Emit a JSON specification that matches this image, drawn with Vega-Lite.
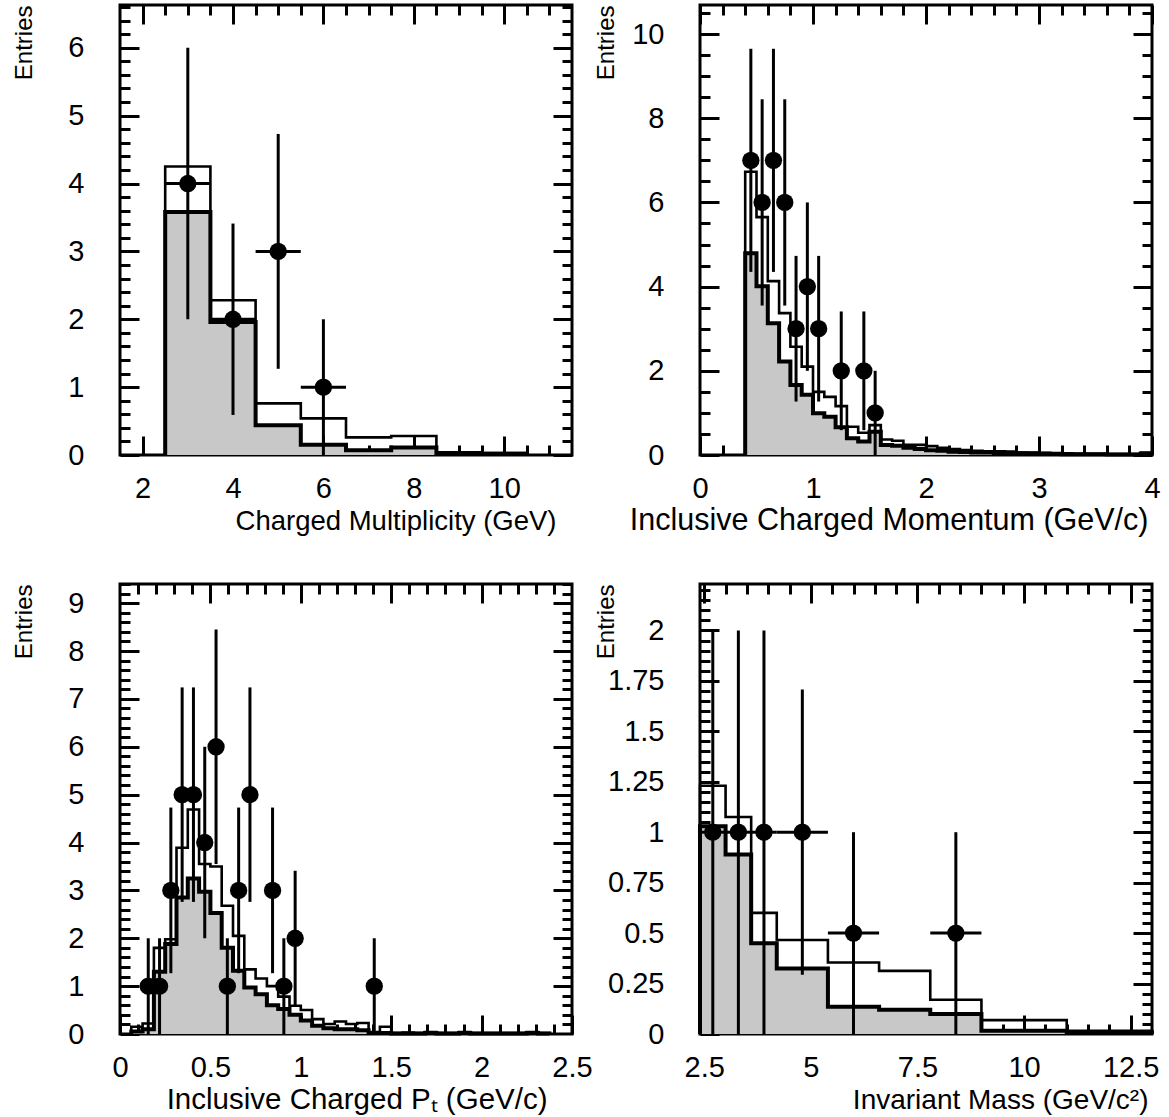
{
  "$schema": "https://vega.github.io/schema/vega-lite/v6.json",
  "padding": {"left": 10, "top": 2, "right": 5, "bottom": 2},
  "autosize": {"type": "pad"},
  "background": "white",
  "config": {
    "view": {"stroke": "black", "strokeWidth": 3},
    "axis": {
      "domain": false, "grid": false, "tickColor": "black", "tickWidth": 3,
      "labelFont": "Liberation Sans", "labelFontSize": 29, "labelColor": "black",
      "titleFont": "Liberation Sans", "titleFontWeight": "normal", "titleColor": "black",
      "labelFlush": false, "labelOverlap": false, "labelBound": false, "zindex": 1
    }
  },
  "datasets": {
    "h1": [
      {"k":0,"x":2.5,"a":0,"b":0},{"k":1,"x":2.5,"a":3.58,"b":4.25},{"k":2,"x":3.5,"a":1.96,"b":2.28},{"k":3,"x":4.5,"a":0.44,"b":0.76},
      {"k":4,"x":5.5,"a":0.15,"b":0.54},{"k":5,"x":6.5,"a":0.07,"b":0.26},{"k":6,"x":7.5,"a":0.11,"b":0.28},{"k":7,"x":8.5,"a":0.02,"b":0.04},
      {"k":8,"x":9.5,"a":0.02,"b":0.03},{"k":9,"x":10.5,"a":0.02,"b":0.03},{"k":10,"x":10.5,"a":0,"b":0}
    ],
    "p1": [
      {"x":3,"y":4,"ylo":2,"yhi":6,"xlo":2.5,"xhi":3.5},{"x":4,"y":2,"ylo":0.59,"yhi":3.41,"xlo":3.5,"xhi":4.5},
      {"x":5,"y":3,"ylo":1.27,"yhi":4.73,"xlo":4.5,"xhi":5.5},{"x":6,"y":1,"ylo":0,"yhi":2,"xlo":5.5,"xhi":6.5}
    ],
    "h2": [
      {"k":0,"x":0.4,"a":0,"b":0},{"k":1,"x":0.4,"a":4.79,"b":6.73},{"k":2,"x":0.5,"a":4.01,"b":5.65},{"k":3,"x":0.6,"a":3.13,"b":4.13},
      {"k":4,"x":0.7,"a":2.22,"b":3.37},{"k":5,"x":0.8,"a":1.66,"b":2.57},{"k":6,"x":0.9,"a":1.43,"b":2.1},{"k":7,"x":1.0,"a":0.99,"b":1.5},
      {"k":8,"x":1.1,"a":0.91,"b":1.38},{"k":9,"x":1.2,"a":0.66,"b":1.16},{"k":10,"x":1.3,"a":0.4,"b":0.67},{"k":11,"x":1.4,"a":0.32,"b":0.53},
      {"k":12,"x":1.5,"a":0.55,"b":0.71},{"k":13,"x":1.6,"a":0.24,"b":0.37},{"k":14,"x":1.7,"a":0.22,"b":0.34},{"k":15,"x":1.8,"a":0.17,"b":0.24},
      {"k":16,"x":1.9,"a":0.14,"b":0.24},{"k":17,"x":2.0,"a":0.11,"b":0.21},{"k":18,"x":2.1,"a":0.1,"b":0.17},{"k":19,"x":2.2,"a":0.08,"b":0.14},
      {"k":20,"x":2.3,"a":0.07,"b":0.12},{"k":21,"x":2.4,"a":0.06,"b":0.1},{"k":22,"x":2.5,"a":0.06,"b":0.09},{"k":23,"x":2.6,"a":0.05,"b":0.09},
      {"k":24,"x":2.7,"a":0.05,"b":0.08},{"k":25,"x":2.8,"a":0.04,"b":0.06},{"k":26,"x":2.9,"a":0.04,"b":0.05},{"k":27,"x":3.0,"a":0.03,"b":0.05},
      {"k":28,"x":3.1,"a":0.03,"b":0.04},{"k":29,"x":3.2,"a":0.02,"b":0.04},{"k":30,"x":3.3,"a":0.02,"b":0.03},{"k":31,"x":3.4,"a":0.02,"b":0.03},
      {"k":32,"x":3.5,"a":0.02,"b":0.03},{"k":33,"x":3.6,"a":0.01,"b":0.02},{"k":34,"x":3.7,"a":0.01,"b":0.02},{"k":35,"x":3.8,"a":0.01,"b":0.02},
      {"k":36,"x":3.9,"a":0.03,"b":0.06},{"k":37,"x":4.0,"a":0.03,"b":0.06},{"k":38,"x":4.0,"a":0,"b":0}
    ],
    "p2": [
      {"x":0.45,"y":7,"ylo":4.35,"yhi":9.65,"xlo":0.4,"xhi":0.5},{"x":0.55,"y":6,"ylo":3.55,"yhi":8.45,"xlo":0.5,"xhi":0.6},
      {"x":0.65,"y":7,"ylo":4.35,"yhi":9.65,"xlo":0.6,"xhi":0.7},{"x":0.75,"y":6,"ylo":3.55,"yhi":8.45,"xlo":0.7,"xhi":0.8},
      {"x":0.85,"y":3,"ylo":1.27,"yhi":4.73,"xlo":0.8,"xhi":0.9},{"x":0.95,"y":4,"ylo":2,"yhi":6,"xlo":0.9,"xhi":1.0},
      {"x":1.05,"y":3,"ylo":1.27,"yhi":4.73,"xlo":1.0,"xhi":1.1},{"x":1.25,"y":2,"ylo":0.59,"yhi":3.41,"xlo":1.2,"xhi":1.3},
      {"x":1.45,"y":2,"ylo":0.59,"yhi":3.41,"xlo":1.4,"xhi":1.5},{"x":1.55,"y":1,"ylo":0,"yhi":2,"xlo":1.5,"xhi":1.6}
    ],
    "h3": [
      {"k":0,"x":0.0625,"a":0,"b":0},{"k":1,"x":0.0625,"a":0.05,"b":0.15},{"k":2,"x":0.125,"a":0.1,"b":0.22},{"k":3,"x":0.1875,"a":1.3,"b":1.8},
      {"k":4,"x":0.25,"a":1.88,"b":1.98},{"k":5,"x":0.3125,"a":2.85,"b":3.89},{"k":6,"x":0.375,"a":3.25,"b":4.69},{"k":7,"x":0.4375,"a":2.97,"b":3.55},
      {"k":8,"x":0.5,"a":2.53,"b":3.5},{"k":9,"x":0.5625,"a":1.8,"b":2.68},{"k":10,"x":0.625,"a":1.32,"b":2.05},{"k":11,"x":0.6875,"a":0.97,"b":1.35},
      {"k":12,"x":0.75,"a":0.83,"b":1.16},{"k":13,"x":0.8125,"a":0.6,"b":1.0},{"k":14,"x":0.875,"a":0.52,"b":0.78},{"k":15,"x":0.9375,"a":0.4,"b":0.59},
      {"k":16,"x":1.0,"a":0.28,"b":0.5},{"k":17,"x":1.0625,"a":0.17,"b":0.31},{"k":18,"x":1.125,"a":0.12,"b":0.21},{"k":19,"x":1.1875,"a":0.1,"b":0.26},
      {"k":20,"x":1.25,"a":0.1,"b":0.21},{"k":21,"x":1.3125,"a":0.08,"b":0.23},{"k":22,"x":1.375,"a":0.02,"b":0.04},{"k":23,"x":1.4375,"a":0.02,"b":0.15},
      {"k":24,"x":1.5,"a":0.01,"b":0.02},{"k":25,"x":1.5625,"a":0.01,"b":0.03},{"k":26,"x":1.625,"a":0.01,"b":0.02},{"k":27,"x":1.6875,"a":0.02,"b":0.04},
      {"k":28,"x":1.75,"a":0.01,"b":0.02},{"k":29,"x":1.8125,"a":0.01,"b":0.02},{"k":30,"x":1.875,"a":0.02,"b":0.04},{"k":31,"x":1.9375,"a":0.01,"b":0.02},
      {"k":32,"x":2.0,"a":0.01,"b":0.02},{"k":33,"x":2.0625,"a":0.01,"b":0.02},{"k":34,"x":2.125,"a":0.01,"b":0.02},{"k":35,"x":2.1875,"a":0.01,"b":0.02},
      {"k":36,"x":2.25,"a":0.02,"b":0.04},{"k":37,"x":2.3125,"a":0.01,"b":0.02},{"k":38,"x":2.375,"a":0.01,"b":0.02},{"k":39,"x":2.375,"a":0,"b":0}
    ],
    "p3": [
      {"x":0.15625,"y":1,"ylo":0,"yhi":2,"xlo":0.125,"xhi":0.1875},{"x":0.21875,"y":1,"ylo":0,"yhi":2,"xlo":0.1875,"xhi":0.25},
      {"x":0.28125,"y":3,"ylo":1.27,"yhi":4.73,"xlo":0.25,"xhi":0.3125},{"x":0.34375,"y":5,"ylo":2.76,"yhi":7.24,"xlo":0.3125,"xhi":0.375},
      {"x":0.40625,"y":5,"ylo":2.76,"yhi":7.24,"xlo":0.375,"xhi":0.4375},{"x":0.46875,"y":4,"ylo":2,"yhi":6,"xlo":0.4375,"xhi":0.5},
      {"x":0.53125,"y":6,"ylo":3.55,"yhi":8.45,"xlo":0.5,"xhi":0.5625},{"x":0.59375,"y":1,"ylo":0,"yhi":2,"xlo":0.5625,"xhi":0.625},
      {"x":0.65625,"y":3,"ylo":1.27,"yhi":4.73,"xlo":0.625,"xhi":0.6875},{"x":0.71875,"y":5,"ylo":2.76,"yhi":7.24,"xlo":0.6875,"xhi":0.75},
      {"x":0.84375,"y":3,"ylo":1.27,"yhi":4.73,"xlo":0.8125,"xhi":0.875},{"x":0.90625,"y":1,"ylo":0,"yhi":2,"xlo":0.875,"xhi":0.9375},
      {"x":0.96875,"y":2,"ylo":0.59,"yhi":3.41,"xlo":0.9375,"xhi":1.0},{"x":1.40625,"y":1,"ylo":0,"yhi":2,"xlo":1.375,"xhi":1.4375}
    ],
    "h4": [
      {"k":0,"x":2.4,"a":0,"b":0},{"k":1,"x":2.4,"a":1.03,"b":1.23},{"k":2,"x":3.0,"a":0.89,"b":1.075},{"k":3,"x":3.6,"a":0.45,"b":0.6},
      {"k":4,"x":4.2,"a":0.325,"b":0.466},{"k":5,"x":5.4,"a":0.135,"b":0.354},{"k":6,"x":6.6,"a":0.12,"b":0.313},{"k":7,"x":7.8,"a":0.099,"b":0.17},
      {"k":8,"x":9.0,"a":0.016,"b":0.069},{"k":9,"x":11.0,"a":0.008,"b":0.016},{"k":10,"x":13.0,"a":0.008,"b":0.016},{"k":11,"x":13.0,"a":0,"b":0}
    ],
    "p4": [
      {"x":2.7,"y":1,"ylo":0,"yhi":2,"xlo":2.4,"xhi":3.0},{"x":3.3,"y":1,"ylo":0,"yhi":2,"xlo":3.0,"xhi":3.6},
      {"x":3.9,"y":1,"ylo":0,"yhi":2,"xlo":3.6,"xhi":4.2},{"x":4.8,"y":1,"ylo":0.293,"yhi":1.707,"xlo":4.2,"xhi":5.4},
      {"x":6.0,"y":0.5,"ylo":0,"yhi":1,"xlo":5.4,"xhi":6.6},{"x":8.4,"y":0.5,"ylo":0,"yhi":1,"xlo":7.8,"xhi":9.0}
    ]
  },
  "columns": 2,
  "spacing": {"row": 129, "column": 128},
  "bounds": "flush",
  "concat": [
    {
      "width": 452, "height": 450,
      "resolve": {"axis": {"x": "independent", "y": "independent"}},
      "layer": [
        {"data": {"name": "h1"}, "transform": [{"filter": "datum.a > 0"}],
         "mark": {"type": "area", "interpolate": "step-after", "color": "#c8c8c8", "opacity": 1},
         "encoding": {
           "x": {"field": "x", "type": "quantitative", "scale": {"domain": [1.5, 11.5], "nice": false, "zero": false},
                 "axis": {"orient": "bottom", "values": [2,4,6,8,10], "labelExpr": "datum.value", "tickSize": -19, "labelPadding": 38,
                          "title": "Charged Multiplicity (GeV)", "titleFontSize": 27.5, "titleAnchor": "end", "titleAlign": "right", "titleX": 436, "titleY": 74, "titleBaseline": "alphabetic"}},
           "y": {"field": "a", "type": "quantitative", "stack": null, "scale": {"domain": [0, 6.63], "nice": false, "zero": false},
                 "axis": {"orient": "left", "values": [0,1,2,3,4,5,6], "labelExpr": "datum.value", "tickSize": -19, "labelPadding": 55,
                          "title": "Entries", "titleFontSize": 24, "titleAngle": 270, "titleAnchor": "end", "titleAlign": "right", "titleBaseline": "top", "titleX": -108, "titleY": 0}}}},
        {"data": {"name": "h1"}, "mark": {"type": "line", "interpolate": "step-after", "color": "black", "strokeWidth": 4},
         "encoding": {
           "x": {"field": "x", "type": "quantitative", "scale": {"domain": [1.5, 11.5], "nice": false, "zero": false},
                 "axis": {"orient": "bottom", "values": [2.5,3,3.5,4.5,5,5.5,6.5,7,7.5,8.5,9,9.5,10.5,11], "tickSize": -10, "labels": false, "title": null}},
           "y": {"field": "a", "type": "quantitative", "scale": {"domain": [0, 6.63], "nice": false, "zero": false},
                 "axis": {"orient": "left", "values": [0.2,0.4,0.6,0.8,1,1.2,1.4,1.6,1.8,2,2.2,2.4,2.6,2.8,3,3.2,3.4,3.6,3.8,4,4.2,4.4,4.6,4.8,5,5.2,5.4,5.6,5.8,6,6.2,6.4,6.6], "tickSize": -10, "labels": false, "title": null}},
           "order": {"field": "k"}}},
        {"data": {"name": "h1"}, "mark": {"type": "line", "interpolate": "step-after", "color": "black", "strokeWidth": 2.6},
         "encoding": {
           "x": {"field": "x", "type": "quantitative", "scale": {"domain": [1.5, 11.5], "nice": false, "zero": false},
                 "axis": {"orient": "top", "values": [2,4,6,8,10], "tickSize": -19, "labels": false, "title": null}},
           "y": {"field": "b", "type": "quantitative", "scale": {"domain": [0, 6.63], "nice": false, "zero": false},
                 "axis": {"orient": "right", "values": [0,1,2,3,4,5,6], "tickSize": -19, "labels": false, "title": null}},
           "order": {"field": "k"}}},
        {"data": {"name": "p1"}, "mark": {"type": "rule", "color": "black", "strokeWidth": 3},
         "encoding": {
           "x": {"field": "x", "type": "quantitative", "scale": {"domain": [1.5, 11.5], "nice": false, "zero": false},
                 "axis": {"orient": "top", "values": [2.5,3,3.5,4.5,5,5.5,6.5,7,7.5,8.5,9,9.5,10.5,11], "tickSize": -10, "labels": false, "title": null}},
           "y": {"field": "ylo", "type": "quantitative", "scale": {"domain": [0, 6.63], "nice": false, "zero": false},
                 "axis": {"orient": "right", "values": [0.2,0.4,0.6,0.8,1,1.2,1.4,1.6,1.8,2,2.2,2.4,2.6,2.8,3,3.2,3.4,3.6,3.8,4,4.2,4.4,4.6,4.8,5,5.2,5.4,5.6,5.8,6,6.2,6.4,6.6], "tickSize": -10, "labels": false, "title": null}},
           "y2": {"field": "yhi"}}},
        {"data": {"name": "p1"}, "mark": {"type": "rule", "color": "black", "strokeWidth": 3},
         "encoding": {
           "x": {"field": "xlo", "type": "quantitative", "scale": {"domain": [1.5, 11.5], "nice": false, "zero": false}, "axis": null},
           "x2": {"field": "xhi"},
           "y": {"field": "y", "type": "quantitative", "scale": {"domain": [0, 6.63], "nice": false, "zero": false}, "axis": null}}},
        {"data": {"name": "p1"}, "mark": {"type": "point", "filled": true, "color": "black", "opacity": 1, "size": 300},
         "encoding": {
           "x": {"field": "x", "type": "quantitative", "scale": {"domain": [1.5, 11.5], "nice": false, "zero": false}, "axis": null},
           "y": {"field": "y", "type": "quantitative", "scale": {"domain": [0, 6.63], "nice": false, "zero": false}, "axis": null}}}
      ]
    },
    {
      "width": 452, "height": 450,
      "resolve": {"axis": {"x": "independent", "y": "independent"}},
      "layer": [
        {"data": {"name": "h2"}, "transform": [{"filter": "datum.a > 0"}],
         "mark": {"type": "area", "interpolate": "step-after", "color": "#c8c8c8", "opacity": 1},
         "encoding": {
           "x": {"field": "x", "type": "quantitative", "scale": {"domain": [0, 4], "nice": false, "zero": false},
                 "axis": {"orient": "bottom", "values": [0,1,2,3,4], "labelExpr": "datum.value", "tickSize": -19, "labelPadding": 38,
                          "title": "Inclusive Charged Momentum (GeV/c)", "titleFontSize": 30.5, "titleAnchor": "end", "titleAlign": "right", "titleX": 448, "titleY": 74, "titleBaseline": "alphabetic"}},
           "y": {"field": "a", "type": "quantitative", "stack": null, "scale": {"domain": [0, 10.69], "nice": false, "zero": false},
                 "axis": {"orient": "left", "values": [0,2,4,6,8,10], "labelExpr": "datum.value", "tickSize": -19, "labelPadding": 55,
                          "title": "Entries", "titleFontSize": 24, "titleAngle": 270, "titleAnchor": "end", "titleAlign": "right", "titleBaseline": "top", "titleX": -106, "titleY": 0}}}},
        {"data": {"name": "h2"}, "mark": {"type": "line", "interpolate": "step-after", "color": "black", "strokeWidth": 4},
         "encoding": {
           "x": {"field": "x", "type": "quantitative", "scale": {"domain": [0, 4], "nice": false, "zero": false},
                 "axis": {"orient": "bottom", "values": [0.2,0.4,0.6,0.8,1.2,1.4,1.6,1.8,2.2,2.4,2.6,2.8,3.2,3.4,3.6,3.8], "tickSize": -10, "labels": false, "title": null}},
           "y": {"field": "a", "type": "quantitative", "scale": {"domain": [0, 10.69], "nice": false, "zero": false},
                 "axis": {"orient": "left", "values": [0.5,1,1.5,2.5,3,3.5,4.5,5,5.5,6.5,7,7.5,8.5,9,9.5,10.5], "tickSize": -10, "labels": false, "title": null}},
           "order": {"field": "k"}}},
        {"data": {"name": "h2"}, "mark": {"type": "line", "interpolate": "step-after", "color": "black", "strokeWidth": 2.6},
         "encoding": {
           "x": {"field": "x", "type": "quantitative", "scale": {"domain": [0, 4], "nice": false, "zero": false},
                 "axis": {"orient": "top", "values": [0,1,2,3,4], "tickSize": -19, "labels": false, "title": null}},
           "y": {"field": "b", "type": "quantitative", "scale": {"domain": [0, 10.69], "nice": false, "zero": false},
                 "axis": {"orient": "right", "values": [0,2,4,6,8,10], "tickSize": -19, "labels": false, "title": null}},
           "order": {"field": "k"}}},
        {"data": {"name": "p2"}, "mark": {"type": "rule", "color": "black", "strokeWidth": 3},
         "encoding": {
           "x": {"field": "x", "type": "quantitative", "scale": {"domain": [0, 4], "nice": false, "zero": false},
                 "axis": {"orient": "top", "values": [0.2,0.4,0.6,0.8,1.2,1.4,1.6,1.8,2.2,2.4,2.6,2.8,3.2,3.4,3.6,3.8], "tickSize": -10, "labels": false, "title": null}},
           "y": {"field": "ylo", "type": "quantitative", "scale": {"domain": [0, 10.69], "nice": false, "zero": false},
                 "axis": {"orient": "right", "values": [0.5,1,1.5,2.5,3,3.5,4.5,5,5.5,6.5,7,7.5,8.5,9,9.5,10.5], "tickSize": -10, "labels": false, "title": null}},
           "y2": {"field": "yhi"}}},
        {"data": {"name": "p2"}, "mark": {"type": "rule", "color": "black", "strokeWidth": 3},
         "encoding": {
           "x": {"field": "xlo", "type": "quantitative", "scale": {"domain": [0, 4], "nice": false, "zero": false}, "axis": null},
           "x2": {"field": "xhi"},
           "y": {"field": "y", "type": "quantitative", "scale": {"domain": [0, 10.69], "nice": false, "zero": false}, "axis": null}}},
        {"data": {"name": "p2"}, "mark": {"type": "point", "filled": true, "color": "black", "opacity": 1, "size": 300},
         "encoding": {
           "x": {"field": "x", "type": "quantitative", "scale": {"domain": [0, 4], "nice": false, "zero": false}, "axis": null},
           "y": {"field": "y", "type": "quantitative", "scale": {"domain": [0, 10.69], "nice": false, "zero": false}, "axis": null}}}
      ]
    },
    {
      "width": 452, "height": 450,
      "resolve": {"axis": {"x": "independent", "y": "independent"}},
      "layer": [
        {"data": {"name": "h3"}, "transform": [{"filter": "datum.a > 0"}],
         "mark": {"type": "area", "interpolate": "step-after", "color": "#c8c8c8", "opacity": 1},
         "encoding": {
           "x": {"field": "x", "type": "quantitative", "scale": {"domain": [0, 2.5], "nice": false, "zero": false},
                 "axis": {"orient": "bottom", "values": [0,0.5,1,1.5,2,2.5], "labelExpr": "datum.value", "tickSize": -19, "labelPadding": 38,
                          "title": "Inclusive Charged Pₜ (GeV/c)", "titleFontSize": 29.5, "titleAnchor": "end", "titleAlign": "right", "titleX": 427, "titleY": 74, "titleBaseline": "alphabetic"}},
           "y": {"field": "a", "type": "quantitative", "stack": null, "scale": {"domain": [0, 9.4], "nice": false, "zero": false},
                 "axis": {"orient": "left", "values": [0,1,2,3,4,5,6,7,8,9], "labelExpr": "datum.value", "tickSize": -19, "labelPadding": 55,
                          "title": "Entries", "titleFontSize": 24, "titleAngle": 270, "titleAnchor": "end", "titleAlign": "right", "titleBaseline": "top", "titleX": -108, "titleY": 0}}}},
        {"data": {"name": "h3"}, "mark": {"type": "line", "interpolate": "step-after", "color": "black", "strokeWidth": 4},
         "encoding": {
           "x": {"field": "x", "type": "quantitative", "scale": {"domain": [0, 2.5], "nice": false, "zero": false},
                 "axis": {"orient": "bottom", "values": [0.1,0.2,0.3,0.4,0.6,0.7,0.8,0.9,1.1,1.2,1.3,1.4,1.6,1.7,1.8,1.9,2.1,2.2,2.3,2.4], "tickSize": -10, "labels": false, "title": null}},
           "y": {"field": "a", "type": "quantitative", "scale": {"domain": [0, 9.4], "nice": false, "zero": false},
                 "axis": {"orient": "left", "values": [0.2,0.4,0.6,0.8,1.2,1.4,1.6,1.8,2.2,2.4,2.6,2.8,3.2,3.4,3.6,3.8,4.2,4.4,4.6,4.8,5.2,5.4,5.6,5.8,6.2,6.4,6.6,6.8,7.2,7.4,7.6,7.8,8.2,8.4,8.6,8.8,9.2,9.4], "tickSize": -10, "labels": false, "title": null}},
           "order": {"field": "k"}}},
        {"data": {"name": "h3"}, "mark": {"type": "line", "interpolate": "step-after", "color": "black", "strokeWidth": 2.6},
         "encoding": {
           "x": {"field": "x", "type": "quantitative", "scale": {"domain": [0, 2.5], "nice": false, "zero": false},
                 "axis": {"orient": "top", "values": [0.5,1,1.5,2], "tickSize": -19, "labels": false, "title": null}},
           "y": {"field": "b", "type": "quantitative", "scale": {"domain": [0, 9.4], "nice": false, "zero": false},
                 "axis": {"orient": "right", "values": [1,2,3,4,5,6,7,8,9], "tickSize": -19, "labels": false, "title": null}},
           "order": {"field": "k"}}},
        {"data": {"name": "p3"}, "mark": {"type": "rule", "color": "black", "strokeWidth": 3},
         "encoding": {
           "x": {"field": "x", "type": "quantitative", "scale": {"domain": [0, 2.5], "nice": false, "zero": false},
                 "axis": {"orient": "top", "values": [0.1,0.2,0.3,0.4,0.6,0.7,0.8,0.9,1.1,1.2,1.3,1.4,1.6,1.7,1.8,1.9,2.1,2.2,2.3,2.4], "tickSize": -10, "labels": false, "title": null}},
           "y": {"field": "ylo", "type": "quantitative", "scale": {"domain": [0, 9.4], "nice": false, "zero": false},
                 "axis": {"orient": "right", "values": [0.2,0.4,0.6,0.8,1.2,1.4,1.6,1.8,2.2,2.4,2.6,2.8,3.2,3.4,3.6,3.8,4.2,4.4,4.6,4.8,5.2,5.4,5.6,5.8,6.2,6.4,6.6,6.8,7.2,7.4,7.6,7.8,8.2,8.4,8.6,8.8,9.2,9.4], "tickSize": -10, "labels": false, "title": null}},
           "y2": {"field": "yhi"}}},
        {"data": {"name": "p3"}, "mark": {"type": "rule", "color": "black", "strokeWidth": 3},
         "encoding": {
           "x": {"field": "xlo", "type": "quantitative", "scale": {"domain": [0, 2.5], "nice": false, "zero": false}, "axis": null},
           "x2": {"field": "xhi"},
           "y": {"field": "y", "type": "quantitative", "scale": {"domain": [0, 9.4], "nice": false, "zero": false}, "axis": null}}},
        {"data": {"name": "p3"}, "mark": {"type": "point", "filled": true, "color": "black", "opacity": 1, "size": 300},
         "encoding": {
           "x": {"field": "x", "type": "quantitative", "scale": {"domain": [0, 2.5], "nice": false, "zero": false}, "axis": null},
           "y": {"field": "y", "type": "quantitative", "scale": {"domain": [0, 9.4], "nice": false, "zero": false}, "axis": null}}}
      ]
    },
    {
      "width": 452, "height": 450,
      "resolve": {"axis": {"x": "independent", "y": "independent"}},
      "layer": [
        {"data": {"name": "h4"}, "transform": [{"filter": "datum.a > 0"}],
         "mark": {"type": "area", "interpolate": "step-after", "color": "#c8c8c8", "opacity": 1},
         "encoding": {
           "x": {"field": "x", "type": "quantitative", "scale": {"domain": [2.4, 13], "nice": false, "zero": false},
                 "axis": {"orient": "bottom", "values": [2.5,5,7.5,10,12.5], "labelExpr": "datum.value", "tickSize": -19, "labelPadding": 38,
                          "title": "Invariant Mass (GeV/c²)", "titleFontSize": 28, "titleAnchor": "end", "titleAlign": "right", "titleX": 448, "titleY": 74, "titleBaseline": "alphabetic"}},
           "y": {"field": "a", "type": "quantitative", "stack": null, "scale": {"domain": [0, 2.23], "nice": false, "zero": false},
                 "axis": {"orient": "left", "values": [0,0.25,0.5,0.75,1,1.25,1.5,1.75,2], "labelExpr": "datum.value", "tickSize": -19, "labelPadding": 55,
                          "title": "Entries", "titleFontSize": 24, "titleAngle": 270, "titleAnchor": "end", "titleAlign": "right", "titleBaseline": "top", "titleX": -106, "titleY": 0}}}},
        {"data": {"name": "h4"}, "mark": {"type": "line", "interpolate": "step-after", "color": "black", "strokeWidth": 4},
         "encoding": {
           "x": {"field": "x", "type": "quantitative", "scale": {"domain": [2.4, 13], "nice": false, "zero": false},
                 "axis": {"orient": "bottom", "values": [3,3.5,4,4.5,5.5,6,6.5,7,8,8.5,9,9.5,10.5,11,11.5,12], "tickSize": -10, "labels": false, "title": null}},
           "y": {"field": "a", "type": "quantitative", "scale": {"domain": [0, 2.23], "nice": false, "zero": false},
                 "axis": {"orient": "left", "values": [0.05,0.1,0.15,0.2,0.3,0.35,0.4,0.45,0.55,0.6,0.65,0.7,0.8,0.85,0.9,0.95,1.05,1.1,1.15,1.2,1.3,1.35,1.4,1.45,1.55,1.6,1.65,1.7,1.8,1.85,1.9,1.95,2.05,2.1,2.15,2.2], "tickSize": -10, "labels": false, "title": null}},
           "order": {"field": "k"}}},
        {"data": {"name": "h4"}, "mark": {"type": "line", "interpolate": "step-after", "color": "black", "strokeWidth": 2.6},
         "encoding": {
           "x": {"field": "x", "type": "quantitative", "scale": {"domain": [2.4, 13], "nice": false, "zero": false},
                 "axis": {"orient": "top", "values": [2.5,5,7.5,10,12.5], "tickSize": -19, "labels": false, "title": null}},
           "y": {"field": "b", "type": "quantitative", "scale": {"domain": [0, 2.23], "nice": false, "zero": false},
                 "axis": {"orient": "right", "values": [0.25,0.5,0.75,1,1.25,1.5,1.75,2], "tickSize": -19, "labels": false, "title": null}},
           "order": {"field": "k"}}},
        {"data": {"name": "p4"}, "mark": {"type": "rule", "color": "black", "strokeWidth": 3},
         "encoding": {
           "x": {"field": "x", "type": "quantitative", "scale": {"domain": [2.4, 13], "nice": false, "zero": false},
                 "axis": {"orient": "top", "values": [3,3.5,4,4.5,5.5,6,6.5,7,8,8.5,9,9.5,10.5,11,11.5,12], "tickSize": -10, "labels": false, "title": null}},
           "y": {"field": "ylo", "type": "quantitative", "scale": {"domain": [0, 2.23], "nice": false, "zero": false},
                 "axis": {"orient": "right", "values": [0.05,0.1,0.15,0.2,0.3,0.35,0.4,0.45,0.55,0.6,0.65,0.7,0.8,0.85,0.9,0.95,1.05,1.1,1.15,1.2,1.3,1.35,1.4,1.45,1.55,1.6,1.65,1.7,1.8,1.85,1.9,1.95,2.05,2.1,2.15,2.2], "tickSize": -10, "labels": false, "title": null}},
           "y2": {"field": "yhi"}}},
        {"data": {"name": "p4"}, "mark": {"type": "rule", "color": "black", "strokeWidth": 3},
         "encoding": {
           "x": {"field": "xlo", "type": "quantitative", "scale": {"domain": [2.4, 13], "nice": false, "zero": false}, "axis": null},
           "x2": {"field": "xhi"},
           "y": {"field": "y", "type": "quantitative", "scale": {"domain": [0, 2.23], "nice": false, "zero": false}, "axis": null}}},
        {"data": {"name": "p4"}, "mark": {"type": "point", "filled": true, "color": "black", "opacity": 1, "size": 300},
         "encoding": {
           "x": {"field": "x", "type": "quantitative", "scale": {"domain": [2.4, 13], "nice": false, "zero": false}, "axis": null},
           "y": {"field": "y", "type": "quantitative", "scale": {"domain": [0, 2.23], "nice": false, "zero": false}, "axis": null}}}
      ]
    }
  ]
}
